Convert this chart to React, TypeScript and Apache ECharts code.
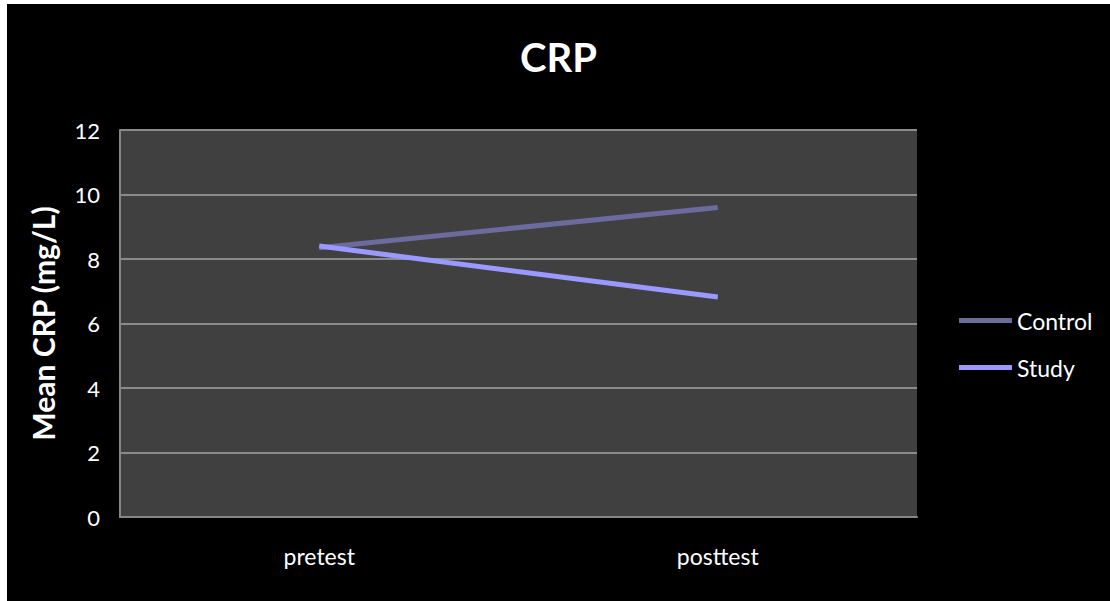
import React, { useEffect, useRef } from "react";
import * as echarts from "echarts";

const categories = ["pretest", "posttest"];
const controlValues = [8.35, 9.6];
const studyValues = [8.4, 6.82];
const yTicks = { min: 0, max: 12, interval: 2 };

export default function App() {
  const ref = useRef<HTMLDivElement>(null);
  useEffect(() => {
    const chart = echarts.init(ref.current!, undefined, { renderer: "svg" });
    const font = "Lato, 'Open Sans', sans-serif";
    chart.setOption({
      animation: false,
      backgroundColor: "#000000",
      textStyle: { fontFamily: font },
      title: {
        text: "CRP",
        left: "center",
        top: 28,
        textStyle: { color: "#ffffff", fontSize: 40, fontWeight: "bold", fontFamily: font },
      },
      legend: {
        orient: "vertical",
        left: 947,
        top: 300,
        itemWidth: 53,
        itemHeight: 5,
        itemGap: 24,
        icon: "rect",
        textStyle: { color: "#ffffff", fontSize: 23, fontFamily: font },
        data: ["Control", "Study"],
      },
      grid: { left: 113, top: 126, right: 193, bottom: 84, backgroundColor: "#404040", show: true, borderWidth: 0 },
      xAxis: {
        type: "category",
        data: categories,
        boundaryGap: true,
        axisLine: { show: true, lineStyle: { color: "#868686", width: 2 } },
        axisTick: { show: false },
        axisLabel: { color: "#ffffff", fontSize: 23, margin: 27, fontFamily: font },
      },
      yAxis: {
        type: "value",
        min: yTicks.min,
        max: yTicks.max,
        interval: yTicks.interval,
        name: "Mean CRP (mg/L)",
        nameLocation: "middle",
        nameGap: 62,
        nameTextStyle: { color: "#ffffff", fontSize: 30, fontWeight: "bold", fontFamily: font },
        axisLine: { show: true, lineStyle: { color: "#868686", width: 2 } },
        axisTick: { show: false },
        axisLabel: { color: "#ffffff", fontSize: 22, margin: 20, fontFamily: font },
        splitLine: { show: true, lineStyle: { color: "#8a8a8a", width: 2 } },
      },
      series: [
        {
          name: "Control",
          type: "line",
          data: controlValues,
          showSymbol: false,
          symbol: "none",
          lineStyle: { color: "#6b6b9e", width: 5 },
          itemStyle: { color: "#6b6b9e" },
        },
        {
          name: "Study",
          type: "line",
          data: studyValues,
          showSymbol: false,
          symbol: "none",
          lineStyle: { color: "#9999ff", width: 5 },
          itemStyle: { color: "#9999ff" },
        },
      ],
    });
    return () => chart.dispose();
  }, []);
  return (
    <div
      ref={ref}
      style={{ position: "absolute", left: 7, top: 4, width: 1103, height: 597 }}
    />
  );
}
